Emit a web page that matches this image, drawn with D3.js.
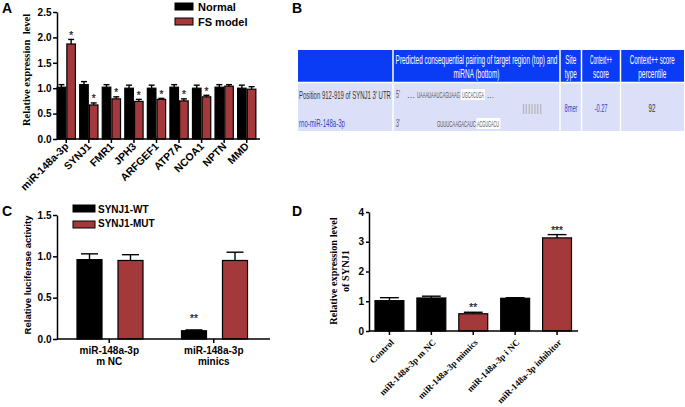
<!DOCTYPE html>
<html><head><meta charset="utf-8">
<script src="https://cdn.jsdelivr.net/npm/d3@7"></script>
<style>body{margin:0;background:#fff}svg{display:block}</style>
</head><body>
<svg id="c" width="685" height="407"></svg>
<script>
// ---------------- data ----------------
// Panel A
const catsA = ["miR-148a-3p","SYNJ1","FMR1","JPH3","ARFGEF1","ATP7A","NCOA1","NPTN","MMD"];
const seriesA = ["Normal","FS model"];
const normalA = [1.02,1.07,1.02,1.00,1.00,1.02,1.00,1.02,1.00];
const normalErrA = [0.05,0.06,0.05,0.06,0.06,0.05,0.06,0.05,0.06];
const fsA = [1.87,0.67,0.79,0.74,0.78,0.75,0.83,1.04,0.98];
const fsErrA = [0.09,0.04,0.04,0.04,0.02,0.04,0.03,0.03,0.05];
const sigA = ["*","*","*","*","*","*","*","",""];
const ticksA = [0,0.5,1.0,1.5,2.0,2.5];
// Panel B (TargetScan table)
const headersB = [[""],["Predicted consequential pairing of target region (top) and","miRNA (bottom)"],["Site","type"],["Context++","score"],["Context++ score","percentile"]];
const targetB = "Position 912-919 of SYNJ1 3' UTR";
const mirnaB = "rno-miR-148a-3p";
const utrSeqB = ["UAAAUAAUCAGUAAG","UGCACUGA"];
const mirSeqB = ["GUUUCAAGACAUC","ACGUGACU"];
const siteTypeB = "8mer";
const contextScoreB = "-0.27";
const percentileB = "92";
// Panel C
const catsC = [["miR-148a-3p","m NC"],["miR-148a-3p","minics"]];
const seriesC = ["SYNJ1-WT","SYNJ1-MUT"];
const wtC = [0.96,0.10];
const wtErrC = [0.07,0.01];
const mutC = [0.95,0.95];
const mutErrC = [0.07,0.10];
const sigC = ["","**"];
const ticksC = [0,0.5,1.0,1.5];
// Panel D
const catsD = ["Control","miR-148a-3p m NC","miR-148a-3p mimics","miR-148a-3p i NC","miR-148a-3p inhibitor"];
const valD = [1.02,1.11,0.58,1.10,3.13];
const errD = [0.10,0.06,0.05,0.02,0.11];
const groupD = ["ctrl","ctrl","treat","ctrl","treat"];
const sigD = ["","","**","","***"];
const ticksD = [0,1,2,3,4];

// ---------------- drawing ----------------
const svg = d3.select("#c");
const SANS = "'Liberation Sans', Arial, Helvetica, sans-serif";
const SERIF = "'Liberation Serif', 'Times New Roman', serif";
const NARROW = "'Liberation Sans Narrow','Arial Narrow','Liberation Sans', Arial, sans-serif";
const RED = "#a3393b";
const BLUE = "#0a3cf5";

function panelLabel(t,x,y){
  svg.append("text").attr("x",x).attr("y",y).attr("font-family",SANS)
    .attr("font-weight","bold").attr("font-size",14).attr("fill","#000").text(t);
}
function styleAxis(g, fs, family){
  g.selectAll("path,line").attr("stroke","#000").attr("stroke-width",1.5);
  g.selectAll("text").attr("font-family",family||SANS).attr("font-weight","bold")
    .attr("font-size",fs).attr("fill","#000");
}
function bar(g, x, w, y0, y1, fill){
  g.append("rect").attr("x",x).attr("y",y1).attr("width",w).attr("height",Math.max(0,y0-y1))
    .attr("fill",fill).attr("stroke","#000").attr("stroke-width",1.2);
}
function errBar(g, cx, capW, yv, ye){
  g.append("line").attr("x1",cx).attr("x2",cx).attr("y1",yv).attr("y2",ye).attr("stroke","#000").attr("stroke-width",1.4);
  g.append("line").attr("x1",cx-capW/2).attr("x2",cx+capW/2).attr("y1",ye).attr("y2",ye).attr("stroke","#000").attr("stroke-width",1.4);
}
function star(g, x, y, t){
  g.append("text").attr("x",x).attr("y",y).attr("text-anchor","middle").attr("font-family",SANS)
    .attr("font-size",10).attr("fill","#222").attr("stroke","#222").attr("stroke-width",0.25).text(t);
}
// condensed text: natural text squeezed horizontally to width w via a transform
function narrowText(g, t, x, y, w, size, fill, anchor){
  const el = g.append("text").attr("x",0).attr("y",0).attr("font-family",NARROW)
    .attr("font-size",size).attr("fill",fill).attr("text-anchor",anchor||"start").text(t);
  const nat = el.node().getComputedTextLength() || w;
  el.attr("transform",`translate(${x},${y}) scale(${w/nat},1)`);
  return el;
}

// ===== Panel A =====
panelLabel("A",2,13);
{
  const g = svg.append("g");
  const y = d3.scaleLinear().domain([0,2.5]).range([139,12]);
  const x = d3.scaleBand().domain(catsA).range([55,258]);
  const xi = d3.scaleBand().domain(seriesA).range([0,x.bandwidth()]).paddingInner(0.12).paddingOuter(0.22);
  const vals = [normalA, fsA], errs = [normalErrA, fsErrA], fills = ["#000", RED];
  catsA.forEach((c,i)=>{
    seriesA.forEach((s,k)=>{
      const bx = x(c)+xi(s), bw = xi.bandwidth();
      bar(g, bx, bw, y(0), y(vals[k][i]), fills[k]);
      errBar(g, bx+bw/2, bw*0.7, y(vals[k][i]), y(vals[k][i]+errs[k][i]));
      if(k===1 && sigA[i]) star(g, bx+bw/2, y(vals[k][i]+errs[k][i])-0.5, sigA[i]);
    });
  });
  const ya = g.append("g").attr("transform","translate(57,0)")
    .call(d3.axisLeft(y).tickValues(ticksA).tickFormat(d3.format(".1f")).tickSize(4).tickPadding(1.5).tickSizeOuter(0));
  styleAxis(ya,10);
  g.append("line").attr("x1",57).attr("x2",260).attr("y1",139).attr("y2",139).attr("stroke","#000").attr("stroke-width",1.5);
  catsA.forEach(c=>{
    const cx = x(c)+x.bandwidth()/2;
    g.append("line").attr("x1",cx).attr("x2",cx).attr("y1",139).attr("y2",143).attr("stroke","#000").attr("stroke-width",1.5);
    g.append("text").attr("transform",`translate(${cx+3},147) rotate(-45)`).attr("text-anchor","end")
      .attr("font-family",SANS).attr("font-weight","bold").attr("font-size",10.5).text(c);
  });
  g.append("text").attr("transform","translate(30,70) rotate(-90)").attr("text-anchor","middle")
    .attr("font-family",SERIF).attr("font-weight","bold").attr("font-size",10.5).attr("xml:space","preserve")
    .text("Relative expression  level");
  seriesA.forEach((s,k)=>{
    g.append("rect").attr("x",175).attr("y",3+k*15).attr("width",18).attr("height",7)
      .attr("fill",fills[k]).attr("stroke","#000").attr("stroke-width",1);
    g.append("text").attr("x",198).attr("y",11+k*14.5).attr("font-family",SANS).attr("font-weight","bold")
      .attr("font-size",11).text(s);
  });
}

// ===== Panel B =====
panelLabel("B",292,13);
{
  const g = svg.append("g");
  const colX = [298,393,560,581.5,620.5,684];
  const hTop = 50, hBot = 82, rTop = 83, rBot = 131;
  for(let i=0;i<5;i++){
    g.append("rect").attr("x",colX[i]).attr("y",hTop).attr("width",colX[i+1]-colX[i]).attr("height",hBot-hTop).attr("fill",BLUE);
    g.append("rect").attr("x",colX[i]).attr("y",rTop).attr("width",colX[i+1]-colX[i]).attr("height",rBot-rTop).attr("fill","#dcdff8");
  }
  for(let i=1;i<5;i++){
    g.append("line").attr("x1",colX[i]).attr("x2",colX[i]).attr("y1",hTop).attr("y2",rBot).attr("stroke","#fff").attr("stroke-width",1.5);
  }
  g.append("line").attr("x1",colX[0]).attr("x2",colX[5]).attr("y1",82.5).attr("y2",82.5).attr("stroke","#fff").attr("stroke-width",1.5);
  const headW = [[0],[162,46],[11,12],[22,16],[45,28]];
  headersB.forEach((lines,i)=>{
    const cx = (colX[i]+colX[i+1])/2;
    lines.forEach((t,j)=>{
      if(!t) return;
      narrowText(g, t, cx, 64+j*13.5, headW[i][j], 12, "#fff", "middle");
    });
  });
  narrowText(g, targetB, 299, 99, 92, 11, "#333");
  narrowText(g, mirnaB, 299, 127, 46, 11, "#3a3ac8");
  narrowText(g, "5'", 396, 98, 4, 10, "#555");
  narrowText(g, "3'", 396, 127, 4, 10, "#555");
  narrowText(g, "...", 407, 98, 8, 8.5, "#555");
  narrowText(g, utrSeqB[0], 417, 98, 43, 8.5, "#555");
  g.append("rect").attr("x",461).attr("y",89).attr("width",24).attr("height",11).attr("fill","#fff");
  narrowText(g, utrSeqB[1], 462, 98, 22, 8.5, "#555");
  narrowText(g, "...", 487, 98, 7, 8.5, "#555");
  narrowText(g, mirSeqB[0], 437, 127, 39, 8.5, "#555");
  g.append("rect").attr("x",476.5).attr("y",118).attr("width",24).attr("height",11).attr("fill","#fff");
  narrowText(g, mirSeqB[1], 477, 127, 22, 8.5, "#555");
  g.append("text").attr("x",522).attr("y",112).attr("font-family",SANS).attr("font-size",11).attr("fill","#aaa")
    .attr("textLength",20).attr("lengthAdjust","spacing").text("|||||||");
  narrowText(g, siteTypeB, 571, 112, 13, 11, "#3a3ac8", "middle");
  narrowText(g, contextScoreB, 601, 112, 13, 11, "#3a3ac8", "middle");
  narrowText(g, percentileB, 652, 112, 7, 11, "#333", "middle");
}

// ===== Panel C =====
panelLabel("C",2,216);
{
  const g = svg.append("g");
  const y = d3.scaleLinear().domain([0,1.5]).range([339,215]);
  const keys = catsC.map(d=>d.join(" "));
  const x = d3.scaleBand().domain(keys).range([57,266]);
  const xi = d3.scaleBand().domain(seriesC).range([20,86]).paddingInner(0.39);
  const vals=[wtC,mutC], errs=[wtErrC,mutErrC], fills=["#000",RED];
  keys.forEach((c,i)=>{
    seriesC.forEach((s,k)=>{
      const bx = x(c)+xi(s), bw = xi.bandwidth();
      bar(g,bx,bw,y(0),y(vals[k][i]),fills[k]);
      errBar(g,bx+bw/2,bw*0.68,y(vals[k][i]),y(vals[k][i]+errs[k][i]));
      if(k===0 && sigC[i]) star(g, bx+bw/2, y(vals[k][i]+errs[k][i])-7.5, sigC[i]);
    });
  });
  const ya = g.append("g").attr("transform","translate(57,0)")
    .call(d3.axisLeft(y).tickValues(ticksC).tickFormat(d3.format(".1f")).tickSize(4).tickPadding(1.5).tickSizeOuter(0));
  styleAxis(ya,10);
  g.append("line").attr("x1",57).attr("x2",270).attr("y1",339).attr("y2",339).attr("stroke","#000").attr("stroke-width",1.5);
  catsC.forEach((lines,i)=>{
    const cx = x(keys[i])+x.bandwidth()/2;
    g.append("line").attr("x1",cx).attr("x2",cx).attr("y1",339).attr("y2",343).attr("stroke","#000").attr("stroke-width",1.5);
    lines.forEach((t,j)=>g.append("text").attr("x",cx).attr("y",354+j*10.5).attr("text-anchor","middle")
      .attr("font-family",SANS).attr("font-weight","bold").attr("font-size",10).text(t));
  });
  g.append("text").attr("transform","translate(30.5,275) rotate(-90)").attr("text-anchor","middle")
    .attr("font-family",SANS).attr("font-weight","bold").attr("font-size",9.5).text("Relative luciferase activity");
  seriesC.forEach((s,k)=>{
    g.append("rect").attr("x",73).attr("y",205+k*16).attr("width",22).attr("height",7)
      .attr("fill",fills[k]).attr("stroke","#000").attr("stroke-width",1);
    g.append("text").attr("x",98).attr("y",212.5+k*14.5).attr("font-family",SANS).attr("font-weight","bold")
      .attr("font-size",10).text(s);
  });
}

// ===== Panel D =====
panelLabel("D",292,216);
{
  const g = svg.append("g");
  const y = d3.scaleLinear().domain([0,4]).range([331,212]);
  const x = d3.scaleBand().domain(catsD).range([368.5,578]).paddingInner(0.31).paddingOuter(0.155);
  const fillOf = {ctrl:"#000", treat:RED};
  catsD.forEach((c,i)=>{
    const bx = x(c), bw = x.bandwidth();
    bar(g,bx,bw,y(0),y(valD[i]),fillOf[groupD[i]]);
    errBar(g,bx+bw/2,bw*0.65,y(valD[i]),y(valD[i]+errD[i]));
    if(sigD[i]) star(g, bx+bw/2, y(valD[i]+errD[i])-1, sigD[i]);
  });
  const ya = g.append("g").attr("transform","translate(369,0)")
    .call(d3.axisLeft(y).tickValues(ticksD).tickFormat(d3.format("d")).tickSize(3).tickPadding(2).tickSizeOuter(0));
  styleAxis(ya,10);
  g.append("line").attr("x1",369).attr("x2",578).attr("y1",331).attr("y2",331).attr("stroke","#000").attr("stroke-width",1.5);
  catsD.forEach(c=>{
    const cx = x(c)+x.bandwidth()/2;
    g.append("line").attr("x1",cx).attr("x2",cx).attr("y1",331).attr("y2",335).attr("stroke","#000").attr("stroke-width",1.5);
    g.append("text").attr("transform",`translate(${cx+5},343) rotate(-45)`).attr("text-anchor","end")
      .attr("font-family",SERIF).attr("font-weight","bold").attr("font-size",9).text(c);
  });
  g.append("text").attr("transform","translate(336.5,271) rotate(-90)").attr("text-anchor","middle")
    .attr("font-family",SERIF).attr("font-weight","bold").attr("font-size",10.3).text("Relative expression level");
  g.append("text").attr("transform","translate(348.5,271) rotate(-90)").attr("text-anchor","middle")
    .attr("font-family",SERIF).attr("font-weight","bold").attr("font-size",10.3).text("of SYNJ1");
}
</script>
</body></html>
